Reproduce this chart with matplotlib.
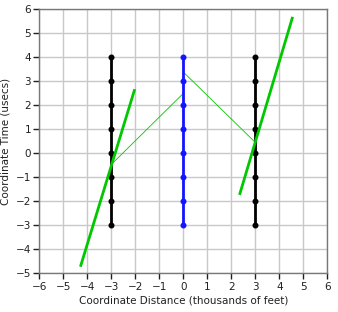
import numpy as np
import matplotlib.pyplot as plt
from matplotlib.pyplot import MultipleLocator

# receiver columns (x position, times at each point)
col_times = [-3, -2, -1, 0, 1, 2, 3, 4]
col_left_x = -3
col_mid_x = 0
col_right_x = 3

# thick green event lines (x, y endpoints)
event_1_x = [-4.27, -2.04]
event_1_y = [-4.67, 2.61]
event_2_x = [2.36, 4.54]
event_2_y = [-1.68, 5.62]

# thin green ray paths
ray_1_x = [-3.0, -0.04]
ray_1_y = [-0.47, 2.45]
ray_2_x = [0.06, 2.99]
ray_2_y = [3.32, 0.46]

plt.rcParams['font.family'] = ['DejaVu Sans']
fig = plt.figure(figsize=(3.38, 3.12), dpi=100)
ax = fig.add_axes([0.1163, 0.124, 0.852, 0.847])

green = "#00c800"
ax.plot(ray_1_x, ray_1_y, color=green, lw=0.6, zorder=3)
ax.plot(ray_2_x, ray_2_y, color=green, lw=0.6, zorder=3)

ax.plot([col_left_x]*len(col_times), col_times, color="black", lw=2.0,
        marker="o", ms=3.3, zorder=4)
ax.plot([col_mid_x]*len(col_times), col_times, color="#1414ff", lw=2.0,
        marker="o", ms=3.3, zorder=4)
ax.plot([col_right_x]*len(col_times), col_times, color="black", lw=2.0,
        marker="o", ms=3.3, zorder=4)

ax.plot(event_1_x, event_1_y, color=green, lw=2.0, zorder=5)
ax.plot(event_2_x, event_2_y, color=green, lw=2.0, zorder=5)

ax.set_xlim(-6, 6)
ax.set_ylim(-5, 6)
ax.xaxis.set_major_locator(MultipleLocator(1))
ax.yaxis.set_major_locator(MultipleLocator(1))
ax.grid(True, color="#c8c8c8", lw=1)
ax.set_axisbelow(True)
for s in ax.spines.values():
    s.set_color("#787878")
    s.set_linewidth(1)
ax.tick_params(direction="out", length=4, width=1, color="#202020",
               labelsize=7.5, labelcolor="#202020", pad=2)
ax.set_xlabel("Coordinate Distance (thousands of feet)", fontsize=7.5,
              color="#202020", labelpad=3)
ax.set_ylabel("Coordinate Time (usecs)", fontsize=7.5, color="#202020",
              labelpad=4)

fig.savefig("out.png", dpi=100)
